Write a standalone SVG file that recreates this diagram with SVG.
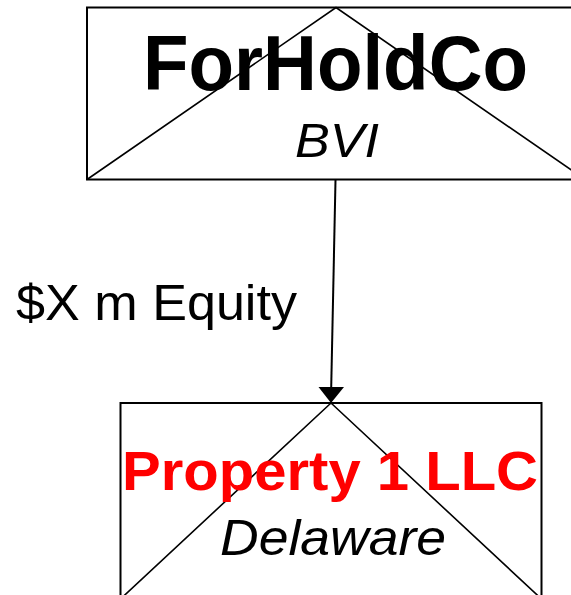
<svg xmlns="http://www.w3.org/2000/svg" width="571" height="595" viewBox="0 0 571 595">
<style>
.box{fill:#fff;stroke:#000;stroke-width:2}
.tri{fill:none;stroke:#000;stroke-width:1.6}
.t{font-family:"Liberation Sans",Arial,sans-serif}
.b{font-weight:bold}
.i{font-style:italic}
</style>
<rect width="571" height="595" fill="#fff"/>
<g id="connectors">
<line x1="335.5" y1="180" x2="331.2" y2="388" stroke="#000" stroke-width="2"/>
<polygon points="318.5,387 344,387 331,403" fill="#000"/>
</g>
<g id="forholdco">
<rect class="box" x="87" y="7.5" width="498" height="172"/>
<polyline class="tri" points="87,179.5 336,7.5 585,179.5"/>
<text class="t b" x="143" y="90" font-size="77" textLength="385" lengthAdjust="spacingAndGlyphs">ForHoldCo</text>
<text class="t i" x="295" y="157" font-size="49" textLength="84" lengthAdjust="spacingAndGlyphs">BVI</text>
</g>
<g id="edge-label">
<text class="t" x="16" y="320" font-size="50" textLength="281" lengthAdjust="spacingAndGlyphs">$X m Equity</text>
</g>
<g id="property1">
<rect class="box" x="120.5" y="403" width="421" height="200" stroke-width="1.6"/>
<polyline class="tri" points="120.5,599 331,403 541.5,599"/>
<text class="t b" x="122" y="490" font-size="56" textLength="416" lengthAdjust="spacingAndGlyphs" fill="#ff0000">Property 1 LLC</text>
<text class="t i" x="220" y="555" font-size="50" textLength="226" lengthAdjust="spacingAndGlyphs">Delaware</text>
</g>
</svg>
